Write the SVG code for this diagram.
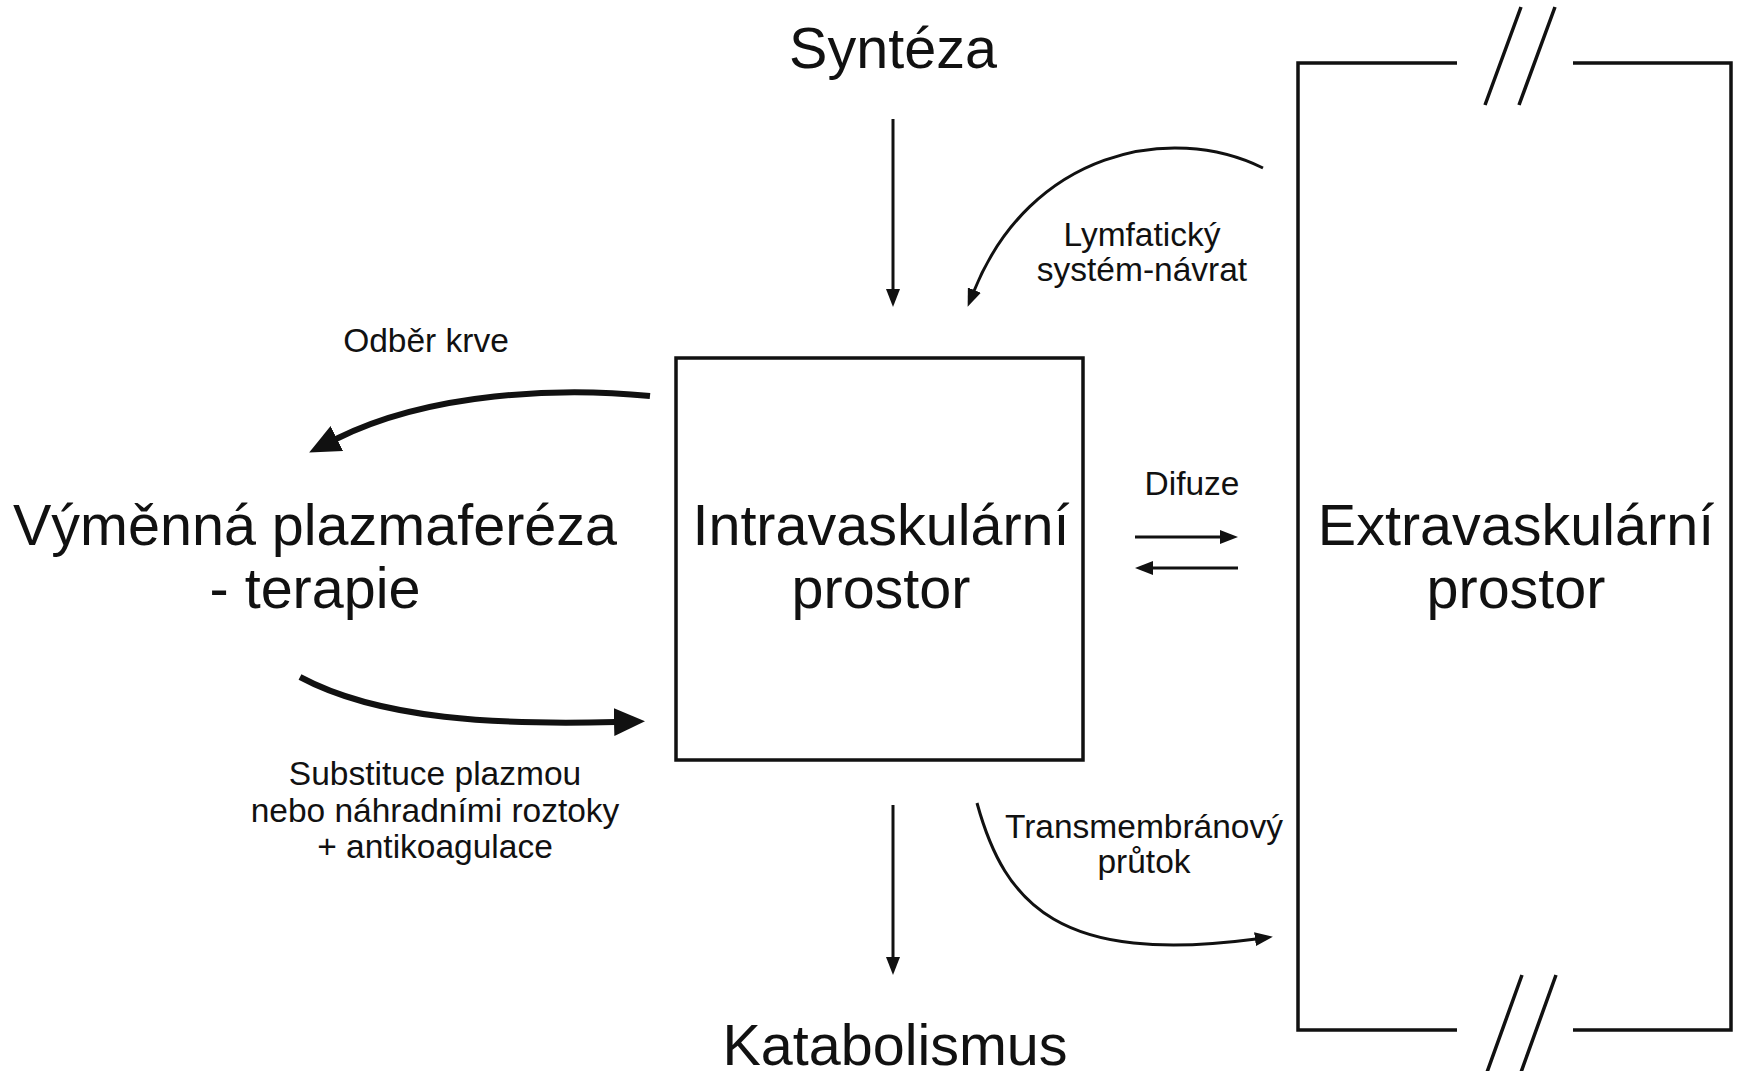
<svg xmlns="http://www.w3.org/2000/svg" width="1737" height="1071" viewBox="0 0 1737 1071">
<style>
text{font-family:"Liberation Sans",Arial,sans-serif;fill:#111;text-anchor:middle}
.big{font-size:57.5px}
.small{font-size:33.5px}
.line{fill:none;stroke:#111}
.thin{stroke-width:3}
.thick{stroke-width:6}
.frame{fill:none;stroke:#111;stroke-width:3.5}
</style>
<defs>
<marker id="ah" markerUnits="userSpaceOnUse" markerWidth="18" markerHeight="14" refX="1" refY="7" orient="auto">
<path d="M0,0 L18,7 L0,14 z" fill="#111"/>
</marker>
<marker id="ahBig" markerUnits="userSpaceOnUse" markerWidth="31" markerHeight="28" refX="1" refY="14" orient="auto">
<path d="M0,0 L31,14 L0,28 z" fill="#111"/>
</marker>
</defs>
<rect width="1737" height="1071" fill="#fff"/>

<g id="intravascular">
<rect x="676" y="358" width="407" height="402" class="frame"/>
<text class="big" x="881" y="545">Intravaskulární</text>
<text class="big" x="881" y="608">prostor</text>
</g>

<g id="extravascular">
<path class="frame" d="M1457,63 H1298 V1030 H1457 M1573,63 H1731 V1030 H1573"/>
<path class="frame" d="M1485,105 L1521,7 M1519,105 L1555,7 M1522,975 L1486,1075 M1556,975 L1520,1075"/>
<text class="big" x="1516" y="545">Extravaskulární</text>
<text class="big" x="1516" y="608">prostor</text>
</g>

<g id="plasmapheresis">
<text class="big" x="315" y="545">Výměnná plazmaferéza</text>
<text class="big" x="315" y="608">- terapie</text>
</g>

<g id="synthesis">
<text class="big" x="893" y="68">Syntéza</text>
</g>

<g id="catabolism">
<text class="big" x="895" y="1065">Katabolismus</text>
</g>

<g id="connectors">
<path class="line thin" d="M893,119 V290" marker-end="url(#ah)"/>
<path class="line thin" d="M893,805 V958" marker-end="url(#ah)"/>
<path class="line thin" d="M1263,168 C1170,122 1030,152 974,291" marker-end="url(#ah)"/>
<path class="line thick" d="M650,396 C560,387 430,392 336,439" marker-end="url(#ahBig)"/>
<path class="line thick" d="M300,677 C380,720 500,725 615,722" marker-end="url(#ahBig)"/>
<path class="line thin" d="M977,803 C1005,905 1060,965 1256,939" marker-end="url(#ah)"/>
<path class="line thin" d="M1135,537 H1221" marker-end="url(#ah)"/>
<path class="line thin" d="M1238,568 H1152" marker-end="url(#ah)"/>
</g>

<g id="labels">
<text class="small" x="426" y="352">Odběr krve</text>
<text class="small" x="1142" y="246">Lymfatický</text>
<text class="small" x="1142" y="281">systém-návrat</text>
<text class="small" x="1192" y="495">Difuze</text>
<text class="small" x="1144" y="838">Transmembránový</text>
<text class="small" x="1144" y="873">průtok</text>
<text class="small" x="435" y="785">Substituce plazmou</text>
<text class="small" x="435" y="822">nebo náhradními roztoky</text>
<text class="small" x="435" y="858">+ antikoagulace</text>
</g>
</svg>
